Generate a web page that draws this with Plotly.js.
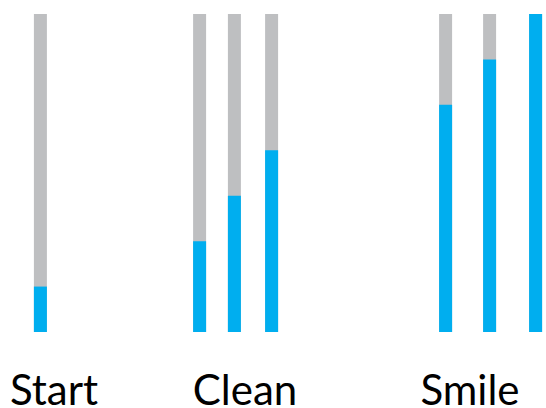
<!DOCTYPE html>
<html>
<head>
<meta charset="utf-8">
<script src="https://cdn.plot.ly/plotly-3.0.1.min.js"></script>
<style>html,body{margin:0;padding:0;background:#fff;}#chart{width:546px;height:408px;}</style>
</head>
<body>
<div id="chart"></div>
<script>
// Progress bars: each bar shows completed steps out of total
var barPositions = [1.01, 4.99, 5.86, 6.79, 11.14, 12.24, 13.39];
var stepsDone = [1, 2, 3, 4, 5, 6, 7];
var stepsTotal = [7, 7, 7, 7, 7, 7, 7];
var stageLabels = ["Start", "Clean", "Smile"];
var stagePositions = [1.35, 6.125, 11.75];

var remaining = {
  type: "bar",
  x: barPositions,
  y: stepsTotal,
  width: 0.325,
  marker: {color: "#BEBFC1"},
  hoverinfo: "skip"
};
var done = {
  type: "bar",
  x: barPositions,
  y: stepsDone,
  width: 0.325,
  marker: {color: "#00AEEF"},
  hoverinfo: "skip"
};

var layout = {
  width: 546,
  height: 408,
  margin: {l: 0, r: 0, t: 0, b: 76},
  paper_bgcolor: "#ffffff",
  plot_bgcolor: "#ffffff",
  barmode: "overlay",
  showlegend: false,
  xaxis: {
    range: [0, 13.65],
    tickvals: stagePositions,
    ticktext: stageLabels,
    tickfont: {family: "Lato, 'Open Sans', sans-serif", size: 42, color: "#000000"},
    ticks: "",
    showgrid: false,
    zeroline: false,
    showline: false,
    ticklabelstandoff: 30
  },
  yaxis: {
    range: [0, 7.308],
    visible: false,
    showgrid: false,
    zeroline: false
  }
};

Plotly.newPlot("chart", [remaining, done], layout, {displayModeBar: false, staticPlot: true});
</script>
</body>
</html>
